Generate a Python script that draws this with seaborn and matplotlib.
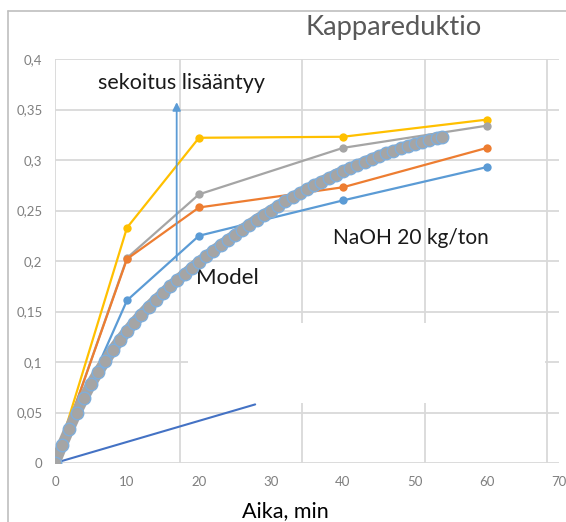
import pandas as pd
import matplotlib
matplotlib.use("Agg")
import matplotlib.pyplot as plt
import seaborn as sns
from matplotlib.patches import Rectangle
from matplotlib.lines import Line2D

# measured points (min, kappa reduction)
time_meas = [0, 10, 20, 40, 60]
kappa_yellow = [0, 0.233, 0.322, 0.323, 0.340]
kappa_grey = [0, 0.203, 0.266, 0.312, 0.334]
kappa_orange = [0, 0.202, 0.253, 0.273, 0.312]
kappa_blue = [0, 0.161, 0.225, 0.260, 0.293]
series_names = ['Sarja1', 'Sarja2', 'Sarja3', 'Sarja4']
series_colors = ['#FFC000', '#A5A5A5', '#ED7D31', '#5B9BD5']

# model curve
time_model = [0, 1, 2, 3, 4, 5, 6, 7, 8, 9, 10, 11, 12, 13, 14, 15, 16, 17, 18, 19,
              20, 21, 22, 23, 24, 25, 26, 27, 28, 29, 30, 31, 32, 33, 34, 35, 36, 37,
              38, 39, 40, 41, 42, 43, 44, 45, 46, 47, 48, 49, 50, 51, 52, 53, 53.7]
kappa_model = [0, 0.0175, 0.034, 0.050, 0.0645, 0.078, 0.090, 0.101, 0.112, 0.1215,
               0.1305, 0.139, 0.147, 0.1545, 0.1615, 0.168, 0.175, 0.181, 0.187, 0.193,
               0.199, 0.2045, 0.210, 0.2155, 0.2205, 0.226, 0.231, 0.236, 0.241, 0.2455,
               0.250, 0.2545, 0.259, 0.263, 0.267, 0.271, 0.275, 0.2785, 0.282, 0.2855,
               0.289, 0.292, 0.295, 0.298, 0.301, 0.304, 0.3065, 0.309, 0.3115, 0.314,
               0.316, 0.318, 0.320, 0.322, 0.323]

# straight line near the bottom
trend_x = [0, 27.8]
trend_y = [0, 0.058]

xtick_vals = [0, 10, 20, 30, 40, 50, 60, 70]
ytick_vals = [0, 0.05, 0.1, 0.15, 0.2, 0.25, 0.3, 0.35, 0.4]
ytick_labels = ['0', '0,05', '0,1', '0,15', '0,2', '0,25', '0,3', '0,35', '0,4']
grid_x = [0, 17.4, 34.3, 51.4, 68.3]

sns.set_theme(style='white')
plt.rcParams['font.family'] = ['Lato', 'DejaVu Sans']

df = pd.DataFrame({
    'aika': time_meas * 4,
    'kappa': kappa_yellow + kappa_grey + kappa_orange + kappa_blue,
    'sarja': sum([[n] * len(time_meas) for n in series_names], []),
})
df_model = pd.DataFrame({'aika': time_model, 'kappa': kappa_model})

fig = plt.figure(figsize=(5.66, 5.22), dpi=100)
ax = fig.add_axes([55 / 566, 1 - 463 / 522, 504 / 566, 404 / 522])

grid_col = '#D9D9D9'
for v in ytick_vals:
    ax.axhline(v, color=grid_col, lw=1.3, zorder=0.5)
for v in grid_x:
    ax.axvline(v, color=grid_col, lw=1.3, zorder=0.5)
# blank patch covering part of the grid
ax.add_patch(Rectangle((18.5, 0.059), 49.5, 0.08, facecolor='white', edgecolor='none', zorder=1))

ax.plot(trend_x, trend_y, color='#4472C4', lw=1.5, zorder=2)

sns.lineplot(data=df, x='aika', y='kappa', hue='sarja', palette=series_colors,
             marker='o', markersize=6, markeredgewidth=0, lw=1.6, sort=False,
             legend=False, ax=ax, zorder=3)

sns.lineplot(data=df_model, x='aika', y='kappa', color='#A5A5A5', lw=8, sort=False,
             ax=ax, zorder=4)
ax.plot(time_model, kappa_model, ls='none', marker='o', markersize=9,
        markerfacecolor='#A5A5A5', markeredgecolor='#7FAEDB', markeredgewidth=1, zorder=5)

# arrow
ax.annotate('', xy=(16.9, 0.36), xytext=(16.9, 0.198),
            arrowprops=dict(arrowstyle='-|>', color='#5B9BD5', lw=1.3, mutation_scale=12),
            zorder=6)

ax.text(17.6, 0.376, 'sekoitus lisääntyy', fontsize=15.5, ha='center', va='center', color='#1a1a1a')
ax.text(23.9, 0.183, 'Model', fontsize=16, ha='center', va='center', color='#1a1a1a')
ax.text(49.4, 0.223, 'NaOH 20 kg/ton', fontsize=15, ha='center', va='center', color='#1a1a1a')

ax.set_xlim(0, 70)
ax.set_ylim(0, 0.4)
ax.set_xticks(xtick_vals)
ax.set_yticks(ytick_vals)
ax.set_yticklabels(ytick_labels)
ax.tick_params(axis='both', length=0, labelsize=9.5, labelcolor='#7F7F7F')
ax.tick_params(axis='x', pad=9)
ax.tick_params(axis='y', pad=9)
ax.set_xlabel('')
ax.set_ylabel('')
for s in ax.spines.values():
    s.set_visible(False)

fig.text(394 / 566, 1 - 27 / 522, 'Kappareduktio', fontsize=19.7, color='#595959',
         ha='center', va='center')
fig.text(285 / 566, 5 / 522, 'Aika, min', fontsize=15.5, color='black',
         ha='center', va='baseline')

# outer chart frame (left and top)
fig.add_artist(Line2D([8 / 566, 8 / 566], [0, 1 - 10.5 / 522], transform=fig.transFigure,
                      color='#BFBFBF', lw=1.2))
fig.add_artist(Line2D([8 / 566, 1], [1 - 10.5 / 522, 1 - 10.5 / 522], transform=fig.transFigure,
                      color='#BFBFBF', lw=1.2))

fig.savefig('out.png', dpi=100, facecolor='white')
